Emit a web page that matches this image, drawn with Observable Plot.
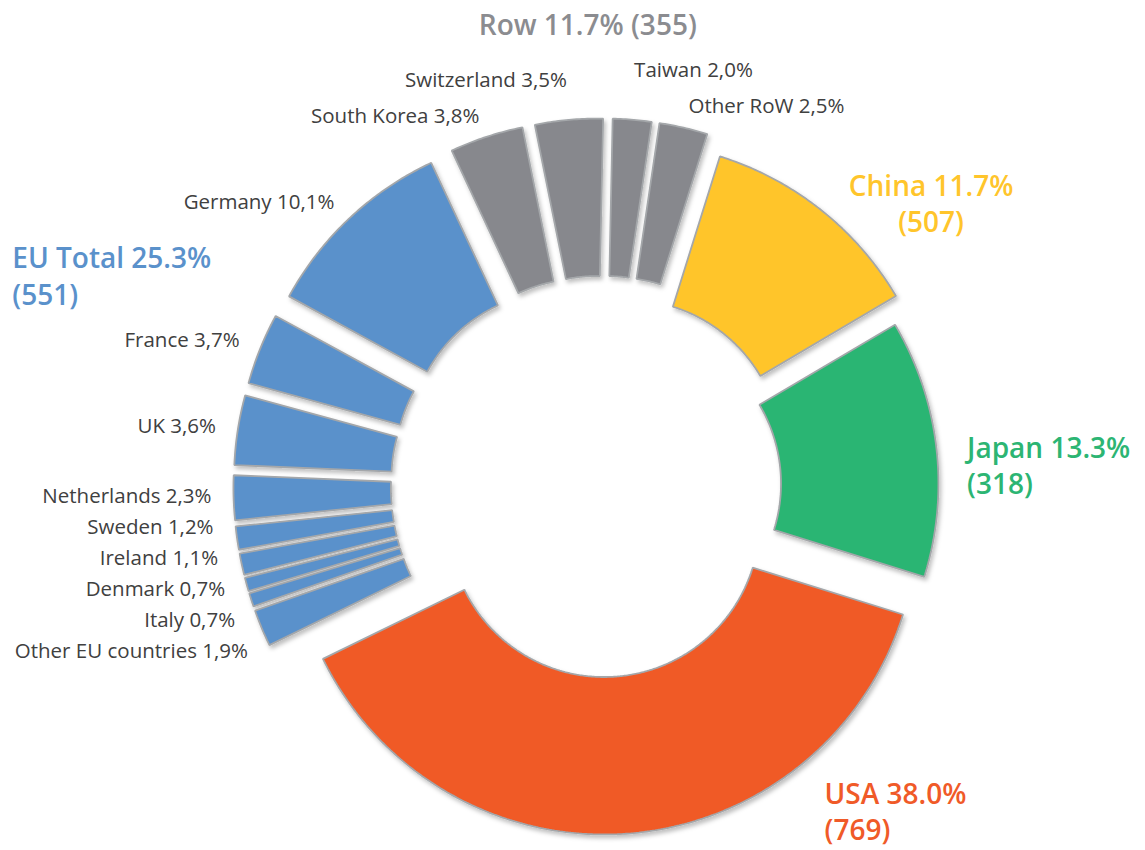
<!DOCTYPE html>
<html><head><meta charset="utf-8">
<script src="https://cdn.jsdelivr.net/npm/d3@7"></script>
<script src="https://cdn.jsdelivr.net/npm/@observablehq/plot@0.6"></script>
<style>
html,body{margin:0;padding:0;background:#fff;}
#chart{width:1145px;height:850px;overflow:hidden;}
</style></head><body><div id="chart"></div>
<script>
// ---------------- data ----------------
const countries = ["Taiwan","Other RoW","China","Japan","USA","Other EU countries","Italy","Denmark","Ireland","Sweden","Netherlands","UK","France","Germany","South Korea","Switzerland"];
const shares = [2.0, 2.5, 11.7, 13.3, 38.0, 1.9, 0.7, 0.7, 1.1, 1.2, 2.3, 3.6, 3.7, 10.1, 3.8, 3.5];
const countryGroup = ["Row","Row","China","Japan","USA","EU","EU","EU","EU","EU","EU","EU","EU","EU","Row","Row"];
const groupKeys = ["Row","China","Japan","USA","EU"];
const groupLabelNames = ["Row","China","Japan","USA","EU Total"];
const groupShares = [11.7, 11.7, 13.3, 38.0, 25.3];
const groupTotals = [355, 507, 318, 769, 551];

// ---------------- layout / style ----------------
const W = 1145, H = 850, CX = 601, CY = 486, RO = 313;
const innerRatio = 0.497;
const startAngle = 1.2;
const groupColor = {Row:"#87888d", China:"#ffc52b", Japan:"#2cb573", USA:"#f05a28", EU:"#5a91cb"};
const groupExplode = {Row:0.176, China:0.128, Japan:0.077, USA:0.112, EU:0.176};
// annotation placement (polar, angle clockwise from 12 o'clock, radius in outer radii)
const groupLabelPlace = {
  Row:{angle:358.3, r:1.48, anchor:"middle", oneLine:true},
  China:{angle:49.25, r:1.39, anchor:"middle"},
  Japan:{angle:86.55, r:1.17, anchor:"start"},
  USA:{angle:145.46, r:1.2566, anchor:"start"},
  EU:{angle:289.75, r:2.0, anchor:"start"}
};
const labelRadius = 335 / RO;
const leftGap = 31 / RO, topGap = 36 / RO;

const rad = a => a * Math.PI / 180;
const total = d3.sum(shares);
let acc = startAngle;
const slices = countries.map((name, i) => {
  const a0 = acc, a1 = acc + shares[i] / total * 360; acc = a1;
  const g = countryGroup[i];
  const mid = (a0 + a1) / 2, e = groupExplode[g];
  return {name, share: shares[i], group: g, a0, a1, mid, ox: e * Math.sin(rad(mid)), oy: e * Math.cos(rad(mid))};
});

// polygon outlines of the slices
const pts = [];
for (const s of slices) {
  const n = Math.max(2, Math.ceil((s.a1 - s.a0) / 0.5));
  for (let k = 0; k <= n; k++) {
    const a = rad(s.a0 + (s.a1 - s.a0) * k / n);
    pts.push({name: s.name, color: groupColor[s.group], x: s.ox + Math.sin(a), y: s.oy + Math.cos(a)});
  }
  for (let k = n; k >= 0; k--) {
    const a = rad(s.a0 + (s.a1 - s.a0) * k / n);
    pts.push({name: s.name, color: groupColor[s.group], x: s.ox + innerRatio * Math.sin(a), y: s.oy + innerRatio * Math.cos(a)});
  }
}

// country labels (Row and EU countries)
const fmt = v => v.toFixed(1).replace(".", ",") + "%";
const labels = slices.filter(s => s.group === "Row" || s.group === "EU").map(s => ({
  text: `${s.name} ${fmt(s.share)}`, group: s.group, s,
  x: s.ox + labelRadius * Math.sin(rad(s.mid)),
  y: s.oy + labelRadius * Math.cos(rad(s.mid)),
  anchor: Math.sin(rad(s.mid)) < 0 ? "end" : "start"
}));
// left cluster: symmetric spreading, then back onto the label circle
const left = labels.filter(l => l.group === "EU").sort((a, b) => b.y - a.y);
for (let it = 0; it < 300; it++) {
  for (let i = 0; i < left.length - 1; i++) {
    const diff = left[i].y - left[i + 1].y;
    if (diff < leftGap) { const d = (leftGap - diff) / 2; left[i].y += d; left[i + 1].y -= d; }
  }
}
for (const l of left) {
  const dy = l.y - l.s.oy;
  l.x = l.s.ox - Math.sqrt(Math.max(0, labelRadius * labelRadius - dy * dy));
}
// top clusters: upper label pushed upward
for (const side of ["end", "start"]) {
  const top = labels.filter(l => l.group === "Row" && l.anchor === side).sort((a, b) => a.y - b.y);
  for (let i = 1; i < top.length; i++) top[i].y = Math.max(top[i].y, top[i - 1].y + topGap);
}

// group annotations
const groupLabels = groupKeys.map((g, i) => {
  const p = groupLabelPlace[g];
  const head = `${groupLabelNames[i]} ${groupShares[i].toFixed(1)}%`;
  return {
    text: p.oneLine ? `${head} (${groupTotals[i]})` : `${head}\n(${groupTotals[i]})`,
    color: groupColor[g], anchor: p.anchor,
    x: p.r * Math.sin(rad(p.angle)), y: p.r * Math.cos(rad(p.angle))
  };
});
groupLabels[0].color = "#8b8c90";

const smallStyle = {fontFamily: "'Open Sans', sans-serif", fontSize: 20.5, fill: "#404040"};
const bigStyle = {fontFamily: "'Open Sans', sans-serif", fontSize: 28, fontWeight: 600, lineHeight: 1.3};

const svg = Plot.plot({
  width: W, height: H, margin: 0,
  x: {domain: [(0 - CX) / RO, (W - CX) / RO], range: [0, W], axis: null},
  y: {domain: [(CY - H) / RO, CY / RO], range: [H, 0], axis: null},
  color: {type: "identity"},
  style: {background: "#fff"},
  marks: [
    Plot.line(pts, {x: "x", y: "y", z: "name", fill: "color", stroke: "#a4a7aa", strokeWidth: 1.8, curve: "linear-closed", strokeLinejoin: "miter"}),
    Plot.text(labels.filter(l => l.anchor === "end"), {x: "x", y: "y", text: "text", textAnchor: "end", ...smallStyle}),
    Plot.text(labels.filter(l => l.anchor === "start"), {x: "x", y: "y", text: "text", textAnchor: "start", ...smallStyle}),
    Plot.text(groupLabels.filter(l => l.anchor === "start"), {x: "x", y: "y", text: "text", fill: "color", textAnchor: "start", ...bigStyle}),
    Plot.text(groupLabels.filter(l => l.anchor === "middle"), {x: "x", y: "y", text: "text", fill: "color", textAnchor: "middle", ...bigStyle})
  ]
});
const defs = document.createElementNS("http://www.w3.org/2000/svg", "defs");
defs.innerHTML = '<filter id="shd" x="-20%" y="-20%" width="140%" height="140%"><feDropShadow dx="2" dy="3" stdDeviation="2.2" flood-color="#000" flood-opacity="0.25"/></filter>';
svg.insertBefore(defs, svg.firstChild);
const lineG = svg.querySelector('g[aria-label="line"]');
if (lineG) lineG.setAttribute("filter", "url(#shd)");
document.getElementById("chart").appendChild(svg);
</script>
</body></html>
